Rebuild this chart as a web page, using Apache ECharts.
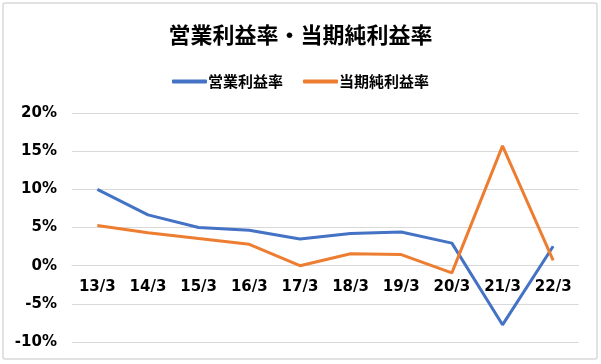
<!DOCTYPE html>
<html>
<head>
<meta charset="utf-8">
<script src="https://cdn.jsdelivr.net/npm/echarts@6/dist/echarts.min.js"></script>
<style>
html,body{margin:0;padding:0;background:#fff;}
#c{width:601px;height:364px;}
</style>
</head>
<body>
<div id="c"></div>
<script>
const title = '営業利益率・当期純利益率';
const categories = ['13/3','14/3','15/3','16/3','17/3','18/3','19/3','20/3','21/3','22/3'];
const operatingMargin = [10.0, 6.65, 5.0, 4.65, 3.5, 4.2, 4.4, 2.95, -7.75, 2.55];
const netMargin = [5.25, 4.3, 3.55, 2.8, 0.0, 1.55, 1.45, -0.95, 15.7, 0.7];
const seriesNames = ['営業利益率', '当期純利益率'];
const yMin = -10, yMax = 20, yStep = 5;

const gridTop = 113, gridBottom = 22, H = 364;
const gridHeight = H - gridTop - gridBottom;
// move category axis (line + labels) up to the zero value
const zeroOffset = -gridHeight * (0 - yMin) / (yMax - yMin);

const chart = echarts.init(document.getElementById('c'));
const cjk = '"Noto Sans CJK JP", "Noto Sans", sans-serif';
const axisFont = '"DejaVu Sans", Verdana, sans-serif';
chart.setOption({
  backgroundColor: '#fff',
  animation: false,
  title: {
    text: title,
    left: 'center',
    top: 19,
    textStyle: {fontFamily: cjk, fontSize: 22, fontWeight: 'bold', color: '#000'}
  },
  legend: {
    top: 69,
    left: 'center',
    itemWidth: 35,
    itemHeight: 4,
    itemGap: 20,
    icon: 'roundRect',
    textStyle: {fontFamily: cjk, fontSize: 15, fontWeight: 'bold', color: '#000', padding: [0,0,0,-4]},
    data: seriesNames
  },
  grid: {left: 72, right: 22.5, top: gridTop, bottom: gridBottom, containLabel: false},
  graphic: [{
    type: 'rect',
    shape: {x: 3, y: 3, width: 594, height: 356, r: 2},
    style: {fill: 'none', stroke: '#d9d9d9', lineWidth: 1.5},
    silent: true
  }],
  xAxis: {
    type: 'category',
    data: categories,
    boundaryGap: true,
    position: 'bottom',
    offset: zeroOffset,
    axisLine: {show: true, onZero: false, lineStyle: {color: '#d9d9d9', width: 1}},
    axisTick: {show: false},
    axisLabel: {fontFamily: axisFont, fontSize: 15, fontWeight: 'bold', color: '#000', margin: 14}
  },
  yAxis: {
    type: 'value',
    min: yMin,
    max: yMax,
    interval: yStep,
    axisLine: {show: false},
    axisTick: {show: false},
    splitLine: {lineStyle: {color: '#d9d9d9', width: 1}},
    axisLabel: {fontFamily: axisFont, fontSize: 15, fontWeight: 'bold', color: '#000', margin: 15, formatter: '{value}%'}
  },
  series: [
    {name: seriesNames[0], type: 'line', data: operatingMargin, symbol: 'none',
     lineStyle: {color: '#4472C4', width: 3}, itemStyle: {color: '#4472C4'}},
    {name: seriesNames[1], type: 'line', data: netMargin, symbol: 'none',
     lineStyle: {color: '#ED7D31', width: 3}, itemStyle: {color: '#ED7D31'}}
  ]
});
</script>
</body>
</html>
